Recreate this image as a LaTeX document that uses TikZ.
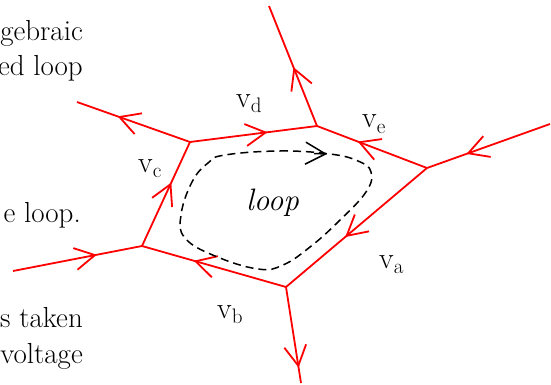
\documentclass[tikz,border=0pt]{standalone}
\usepackage{fontspec}
\usetikzlibrary{arrows.meta,decorations.markings}
\newcommand{\vlab}[1]{v\raisebox{-0.4ex}{\fontsize{21}{21}\selectfont #1}}
\begin{document}
\begin{tikzpicture}[x=1pt,y=-1pt,
  >={Straight Barb[length=20pt,width=22pt]},
  wire/.style={draw=red,line width=1.8pt,line join=round},
  dashloop/.style={draw=black,line width=1.5pt,dash pattern=on 8pt off 5pt},
  midarrow/.style={postaction={decorate,decoration={markings,mark=at position #1 with {\arrow{>}}}}},
  sidetext/.style={font=\rmfamily\fontsize{29}{36}\selectfont,inner sep=0pt,anchor=base east},
  vtext/.style={font=\rmfamily\fontsize{30}{36}\selectfont,inner sep=0pt,anchor=base west}]
\useasboundingbox (0,0) rectangle (551,385);
\clip (0,0) rectangle (551,385);
\node[sidetext] (t1) at (83,41) {gebraic};
\node[sidetext] (t2) at (83,76) {ed loop};
\node[sidetext] (t3) at (81,222) {e loop.};
\node[sidetext] (t4) at (83,327) {s taken};
\node[sidetext] (t5) at (83,363) {voltage};
\coordinate (nc) at (190,142);
\coordinate (nd) at (317,126);
\coordinate (ne) at (427,168);
\coordinate (na) at (286,287);
\coordinate (nb) at (142,246);
\coordinate (oc) at (77,102);
\coordinate (od) at (269,6);
\coordinate (oe) at (550,124);
\coordinate (oa) at (301,383);
\coordinate (ob) at (13,271);
\coordinate (lt) at (314,153.5);
\coordinate (lh) at (327,154);
\draw[wire,midarrow=0.61] (nc) -- (nd);
\draw[wire,midarrow=0.63] (ne) -- (nd);
\draw[wire,midarrow=0.58] (ne) -- (na);
\draw[wire,midarrow=0.64] (na) -- (nb);
\draw[wire,midarrow=0.61] (nb) -- (nc);
\draw[wire,midarrow=0.64] (nc) -- (oc);
\draw[wire,midarrow=0.49] (nd) -- (od);
\draw[wire,midarrow=0.68] (oe) -- (ne);
\draw[wire,midarrow=0.84] (na) -- (oa);
\draw[wire,midarrow=0.65] (ob) -- (nb);
\draw[dashloop] plot[smooth cycle,tension=0.7] coordinates {(225,155) (280,151) (330,154) (358,161) (371,172) (366,192) (338,222) (310,247) (283,265) (258,269) (215,256) (185,238) (181,215) (192,182) (208,163)};
\draw[dashloop,solid,->] (lt) -- (lh);
\node[font=\rmfamily\fontsize{31}{36}\selectfont\itshape,inner sep=0pt,anchor=base west] (lp) at (246,210) {loop};
\node[vtext] (la) at (379,268) {\vlab{a}};
\node[vtext] (lb) at (217,318) {\vlab{b}};
\node[vtext] (lc) at (138,172) {\vlab{c}};
\node[vtext] (ld) at (236,107) {\vlab{d}};
\node[vtext] (le) at (362,128) {\vlab{e}};
\end{tikzpicture}
\end{document}
